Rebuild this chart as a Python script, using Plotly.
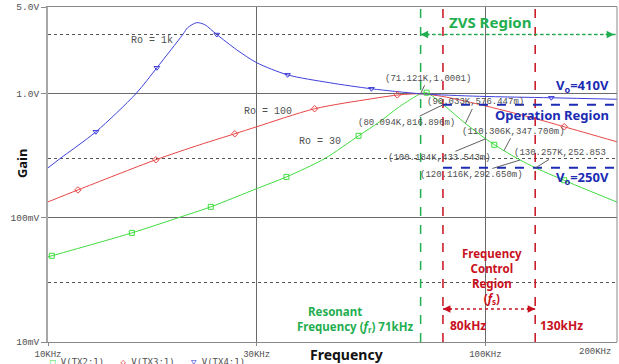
import math
import plotly.graph_objects as go

# ---------------- data (frequency in kHz, gain in V/V) ----------------
green_f = [10, 15.55, 19.81, 23.56, 30, 35.1, 42.9, 51.3, 57.3, 63.6, 71.121, 73.4,
           80.094, 90.033, 100.184, 110.306, 120.116, 130.257, 160, 200]
green_v = [0.0485, 0.0757, 0.1, 0.1227, 0.172, 0.214, 0.3, 0.4585, 0.594, 0.786, 1.0001, 1.02,
           0.816896, 0.576447, 0.433543, 0.3477, 0.29265, 0.252853, 0.185, 0.134]

red_f = [10, 11.71, 17.64, 22.23, 26.73, 30, 40.7, 54.9, 63.6, 71.121, 80, 96.9, 128, 151.5, 200]
red_v = [0.1346, 0.168, 0.294, 0.388, 0.476, 0.542, 0.757, 0.911, 0.98, 1.0001, 0.95, 0.82, 0.641, 0.542, 0.41]

blue_f = [10, 10.65, 12.87, 15.88, 17.74, 20.33, 20.87, 21.89, 22.83, 24.32, 27.01, 30,
          35.3, 44.05, 54.9, 71.121, 96.9, 141.5, 200]
blue_v = [0.253, 0.3, 0.494, 1.0, 1.62, 3.0, 3.41, 3.74, 3.6, 3.0, 2.26, 1.78,
          1.42, 1.227, 1.097, 1.0001, 0.954, 0.928, 0.903]

green_mk_f = [10.2, 15.55, 23.56, 35.1, 51.3, 73.4, 104.8, 151.5]
green_mk_v = [0.0495, 0.0757, 0.1227, 0.214, 0.4585, 1.02, 0.388, 0.201]
red_mk_f = [11.71, 17.64, 26.73, 40.7, 62.9, 151.5]
red_mk_v = [0.168, 0.294, 0.476, 0.757, 0.98, 0.542]
blue_mk_f = [12.87, 17.74, 24.32, 35.3, 54.9, 141.5]
blue_mk_v = [0.494, 1.62, 3.0, 1.42, 1.097, 0.928]

series_names = ["V(TX2:1)", "V(TX3:1)", "V(TX4:1)"]
ro_labels = ["Ro = 30", "Ro = 100", "Ro = 1k"]

pt_f = [71.121, 80.094, 90.033, 100.184, 110.306, 120.116, 130.257]
pt_v = [1.0001, 0.816896, 0.576447, 0.433543, 0.347700, 0.292650, 0.252853]
pt_text = ["(71.121K,1.0001)", "(80.094K,816.896m)", "(90.033K,576.447m)",
           "(100.184K,433.543m)", "(110.306K,347.700m)", "(120.116K,292.650m)",
           "(130.257K,252.853"]

x_tickvals = [10, 30, 100]
x_ticktext = ["10KHz", "30KHz", "100KHz"]
y_tickvals = [5, 1, 0.1, 0.01]
y_ticktext = ["5.0V", "1.0V", "100mV", "10mV"]
y_minor = [3, 0.3, 0.03]

f_res = 71.121
f_lo, f_hi = 80, 130
f_max = 200
v_op_hi, v_op_lo = 0.816896, 0.252853
v_zvs_arrow = 3.0
v_fs_arrow = 0.01845

# ---------------- styles ----------------
GREEN = "#3fdc3f"
RED = "#e84545"
BLUE = "#4040dc"
TGREEN = "#1fae50"
TRED = "#c8101e"
TBLUE = "#1c2bb4"
MONO = "Liberation Mono"
SANS = "Noto Sans"
L = math.log10

fig = go.Figure()
for f, v, c in [(green_f, green_v, GREEN), (red_f, red_v, RED), (blue_f, blue_v, BLUE)]:
    fig.add_trace(go.Scatter(x=f, y=v, mode="lines", line=dict(color=c, width=1, shape="spline", smoothing=0.8),
                             showlegend=False, hoverinfo="skip"))
for f, v, c, sym, nm in [(green_mk_f, green_mk_v, GREEN, "square-open", series_names[0]),
                         (red_mk_f, red_mk_v, RED, "diamond-open", series_names[1]),
                         (blue_mk_f, blue_mk_v, BLUE, "triangle-down-open", series_names[2])]:
    fig.add_trace(go.Scatter(x=f, y=v, mode="markers", name=nm, showlegend=False,
                             marker=dict(color=c, symbol=sym, size=5, line=dict(width=1, color=c))))

shapes = []
shapes.append(dict(type="line", xref="x", yref="paper", x0=f_res, x1=f_res, y0=0, y1=1,
                   line=dict(color=TGREEN, width=1.5, dash="dash")))
for fv in (f_lo, f_hi):
    shapes.append(dict(type="line", xref="x", yref="paper", x0=fv, x1=fv, y0=0, y1=1,
                       line=dict(color=TRED, width=1.5, dash="dash")))
for vv in (v_op_hi, v_op_lo):
    shapes.append(dict(type="line", xref="x", yref="y", x0=f_lo, x1=f_max, y0=vv, y1=vv,
                       line=dict(color=TBLUE, width=2, dash="dash")))
shapes.append(dict(type="line", xref="x", yref="y", x0=f_res, x1=f_max, y0=v_zvs_arrow, y1=v_zvs_arrow,
                   line=dict(color=TGREEN, width=1.5, dash="dot")))
shapes.append(dict(type="line", xref="x", yref="y", x0=f_lo, x1=f_hi, y0=v_fs_arrow, y1=v_fs_arrow,
                   line=dict(color=TRED, width=1.5, dash="dot")))
shapes.append(dict(type="line", xref="paper", yref="paper", x0=1, x1=1, y0=0, y1=1,
                   line=dict(color="#8a8a8a", width=1)))

ann = []
def head(x, y, ax, color):
    ann.append(dict(x=L(x), y=L(y), xref="x", yref="y", ax=ax, ay=0, text="", showarrow=True,
                    arrowhead=2, arrowsize=1, arrowwidth=1.5, arrowcolor=color))
head(f_res, v_zvs_arrow, 10, TGREEN)
head(f_max * 0.985, v_zvs_arrow, -10, TGREEN)
head(f_lo, v_fs_arrow, 10, TRED)
head(f_hi, v_fs_arrow, -10, TRED)

offsets = [(7, -15), (-37, 18), (10, -21), (-46, 19), (10, -19), (-49, 15), (24, -15)]
for f, v, t, (ax, ay) in zip(pt_f, pt_v, pt_text, offsets):
    ann.append(dict(x=L(f), y=L(v), xref="x", yref="y", text=t, showarrow=True, arrowhead=0,
                    arrowwidth=1, arrowcolor="#606060", ax=ax, ay=ay,
                    font=dict(family=MONO, size=9, color="#505050")))

def txt(x, y, t, size, color, family=SANS, bold=True, **kw):
    ann.append(dict(x=x, y=y, xref="paper", yref="paper", text=(f"<b>{t}</b>" if bold else t),
                    xanchor=kw.pop("xanchor", "center"), yanchor=kw.pop("yanchor", "middle"),
                    showarrow=False, font=dict(family=family, size=size, color=color), **kw))

txt(0.777, 0.955, "ZVS Region", 15, TGREEN)
txt(0.940, 0.764, "V<sub>o</sub>=410V", 13, TBLUE)
txt(0.886, 0.678, "Operation Region", 13, TBLUE)
txt(0.940, 0.490, "V<sub>o</sub>=250V", 13, TBLUE)
txt(0.780, 0.197, "Frequency<br>Control<br>Region<br>(<i>f</i><sub>s</sub>)", 11.5, TRED)
txt(0.738, 0.048, "80kHz", 12, TRED)
txt(0.902, 0.048, "130kHz", 12, TRED)
txt(0.504, 0.090, "Resonant", 11.5, TGREEN)
txt(0.540, 0.045, "Frequency (<i>f</i><sub>r</sub>) 71kHz", 11.5, TGREEN)
txt(0.525, -0.036, "Frequency", 14, "#111111")
txt(-0.0457, 0.534, "Gain", 13, "#111111", textangle=-90)
txt(0.183, 0.901, ro_labels[2], 10, "#505050", family=MONO, bold=False)
txt(0.387, 0.687, ro_labels[1], 10, "#505050", family=MONO, bold=False)
txt(0.478, 0.600, ro_labels[0], 10, "#505050", family=MONO, bold=False)
ann.append(dict(x=L(f_max), y=0, xref="x", yref="paper", text="200KHz", showarrow=False,
                xanchor="right", yanchor="top", xshift=-4, yshift=-3,
                font=dict(family=MONO, size=9, color="#505050")))

# legend row (PSpice style: symbol then trace name), partly cut by the bottom edge like the reference
legend_syms = [("□", GREEN), ("◇", RED), ("▽", BLUE)]
legend_text = "   ".join(f'<span style="color:{c}">{s}</span> {n}'
                           for (s, c), n in zip(legend_syms, series_names))
txt(0.0, -0.040, legend_text, 9, "#505050", family="DejaVu Sans Mono", bold=False,
    xanchor="left", yanchor="top")

fig.update_layout(
    width=619, height=364, margin=dict(l=48, r=2, t=7, b=22, autoexpand=False),
    paper_bgcolor="white", plot_bgcolor="white", showlegend=False,
    shapes=shapes, annotations=ann,
    xaxis=dict(type="log", range=[1, 2.30103], tickvals=x_tickvals, ticktext=x_ticktext,
               showgrid=True, gridcolor="#6a6a6a", gridwidth=1,
               showline=True, mirror=True, linecolor="#8a8a8a", linewidth=1,
               ticks="outside", ticklen=3, tickcolor="#8a8a8a",
               tickfont=dict(family=MONO, size=9, color="#505050"), zeroline=False),
    yaxis=dict(type="log", range=[-2, 0.69897], tickvals=y_tickvals, ticktext=y_ticktext,
               showgrid=True, gridcolor="#6a6a6a", gridwidth=1,
               showline=True, mirror=False, linecolor="#a8a8a8", linewidth=2,
               ticks="outside", ticklen=5, tickcolor="#8a8a8a",
               tickfont=dict(family=MONO, size=9.5, color="#505050"), zeroline=False,
               minor=dict(tickvals=y_minor, showgrid=True, griddash="dot", gridcolor="#555555",
                          gridwidth=1, ticks="")),
)

# remove the browser's default 8px body margin so the figure fills the window exactly
fig.write_html("out.html", config={"displayModeBar": False},
               post_script="document.body.style.margin='0';")
